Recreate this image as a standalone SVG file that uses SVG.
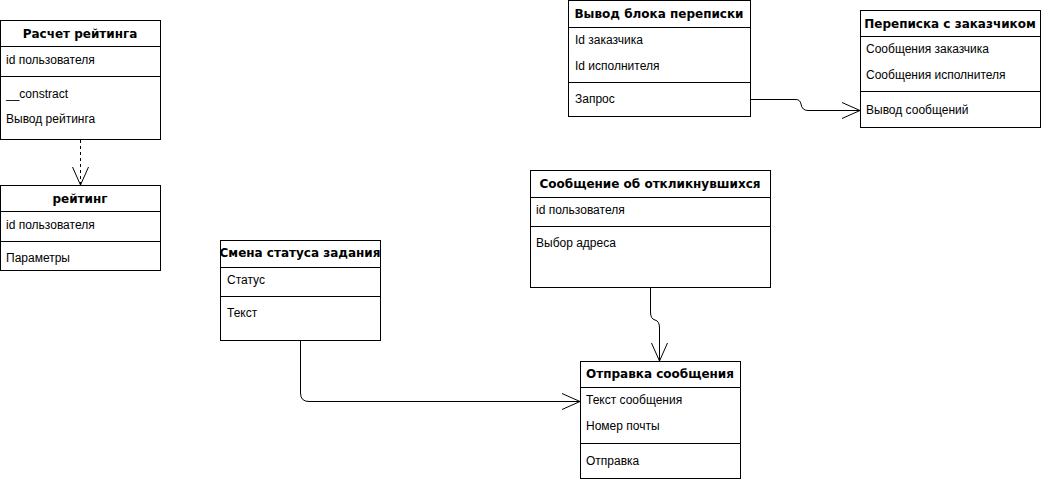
<svg xmlns="http://www.w3.org/2000/svg" width="1041" height="480" viewBox="0 0 1041 480">
<style>
.box{fill:#fff;stroke:#000;stroke-width:1}
.ln{stroke:#000;stroke-width:1;fill:none}
.h{font-family:"DejaVu Sans",Verdana,sans-serif;font-weight:bold;font-size:12px;text-anchor:middle;fill:#000}
.a{font-family:"Liberation Sans",Arial,sans-serif;font-size:12px;fill:#000}
.c{stroke:#000;stroke-width:1;fill:none;marker-end:url(#open)}
</style>
<defs>
<marker id="open" viewBox="0 0 20 18" refX="18" refY="9" markerWidth="20" markerHeight="18" markerUnits="userSpaceOnUse" orient="auto">
<path d="M0,1 L18,9 L0,17" fill="none" stroke="#000" stroke-width="1"/>
</marker>
</defs>
<g id="connectors">
<path class="c" d="M80.5,140 L80.5,185" stroke-dasharray="3,3"/>
<path class="c" d="M750,99.5 L796,99.5 Q800,99.5 801,104 Q802,110.5 808,110.5 L860,110.5"/>
<path class="c" d="M300.5,340 L300.5,393 Q300.5,401.5 309,401.5 L580,401.5"/>
<path class="c" d="M650.5,287 L650.5,312 Q650.5,319 655,320 Q659.5,321 659.5,328 L659.5,361"/>
</g>
<g id="rascet-reitinga">
<rect class="box" x="0.5" y="20.5" width="160" height="119"/>
<path class="ln" d="M0.5,46.5 H160.5 M0.5,76.5 H160.5"/>
<text class="h" x="80" y="38">Расчет рейтинга</text>
<text class="a" x="6" y="64">id пользователя</text>
<text class="a" x="6" y="98">__constract</text>
<text class="a" x="6" y="123">Вывод рейтинга</text>
</g>
<g id="reiting">
<rect class="box" x="0.5" y="185.5" width="160" height="85"/>
<path class="ln" d="M0.5,211.5 H160.5 M0.5,241.5 H160.5"/>
<text class="h" x="80" y="203">рейтинг</text>
<text class="a" x="6" y="229">id пользователя</text>
<text class="a" x="6" y="262">Параметры</text>
</g>
<g id="vyvod-bloka">
<rect class="box" x="568.5" y="0.5" width="182" height="116"/>
<path class="ln" d="M568.5,27.5 H750.5 M568.5,82.5 H750.5"/>
<text class="h" x="659" y="18">Вывод блока переписки</text>
<text class="a" x="575" y="44">Id заказчика</text>
<text class="a" x="575" y="70">Id исполнителя</text>
<text class="a" x="575" y="103">Запрос</text>
</g>
<g id="perepiska">
<rect class="box" x="860.5" y="10.5" width="180" height="117"/>
<path class="ln" d="M860.5,36.5 H1040.5 M860.5,91.5 H1040.5"/>
<text class="h" x="950" y="28">Переписка с заказчиком</text>
<text class="a" x="866" y="53">Сообщения заказчика</text>
<text class="a" x="866" y="79">Сообщения исполнителя</text>
<text class="a" x="866" y="114">Вывод сообщений</text>
</g>
<g id="smena-statusa">
<rect class="box" x="220.5" y="240.5" width="160" height="100"/>
<path class="ln" d="M220.5,267.5 H380.5 M220.5,296.5 H380.5"/>
<text class="h" x="300" y="257">Смена статуса задания</text>
<text class="a" x="227" y="284">Статус</text>
<text class="a" x="227" y="317">Текст</text>
</g>
<g id="soobshenie-otklik">
<rect class="box" x="530.5" y="170.5" width="240" height="117"/>
<path class="ln" d="M530.5,197.5 H770.5 M530.5,226.5 H770.5"/>
<text class="h" x="650" y="188">Сообщение об откликнувшихся</text>
<text class="a" x="536" y="214">id пользователя</text>
<text class="a" x="536" y="247">Выбор адреса</text>
</g>
<g id="otpravka">
<rect class="box" x="580.5" y="361.5" width="160" height="117"/>
<path class="ln" d="M580.5,387.5 H740.5 M580.5,443.5 H740.5"/>
<text class="h" x="660" y="378">Отправка сообщения</text>
<text class="a" x="586" y="404">Текст сообщения</text>
<text class="a" x="586" y="430">Номер почты</text>
<text class="a" x="586" y="465">Отправка</text>
</g>
</svg>
